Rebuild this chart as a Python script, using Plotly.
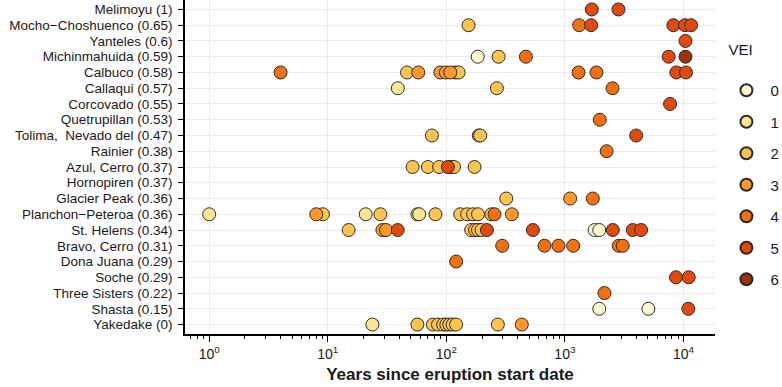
import plotly.graph_objects as go

volcanoes = [
    "Melimoyu (1)", "Mocho\u2212Choshuenco (0.65)", "Yanteles (0.6)", "Michinmahuida (0.59)",
    "Calbuco (0.58)", "Callaqui (0.57)", "Corcovado (0.55)", "Quetrupillan (0.53)",
    "Tolima,\u00a0 Nevado del (0.47)", "Rainier (0.38)", "Azul, Cerro (0.37)", "Hornopiren (0.37)",
    "Glacier Peak (0.36)", "Planchon\u2212Peteroa (0.36)", "St. Helens (0.34)", "Bravo, Cerro (0.31)",
    "Dona Juana (0.29)", "Soche (0.29)", "Three Sisters (0.22)", "Shasta (0.15)", "Yakedake (0)",
]

# eruptions: volcano index, years since start, VEI
erupt_volcano = (
    [0, 0]
    + [1] * 6
    + [2]
    + [3] * 5
    + [4] * 12
    + [5] * 3
    + [6]
    + [7]
    + [8] * 4
    + [9]
    + [10] * 7
    + [12] * 3
    + [13] * 15
    + [14] * 15
    + [15] * 6
    + [16]
    + [17] * 2
    + [18]
    + [19] * 3
    + [20] * 11
)
erupt_years = [
    1686, 2830,
    154, 1320, 1665, 8220, 10300, 11600,
    10400,
    184, 276, 469, 7500, 10400,
    4.0, 46.6, 58, 89, 99, 108, 119, 127, 1303, 1846, 8710, 10500,
    39, 267, 2520,
    7710,
    1970,
    75.6, 188, 193, 3990,
    2250,
    52, 70, 87, 110, 116, 103, 173,
    320, 1108, 1719,
    1.0, 8.0, 9.1, 20.9, 27.8, 57, 59, 81, 131, 150, 168, 185, 240, 255, 357,
    15, 28.9, 31, 38.9, 162, 175, 185, 198, 220, 537, 1780, 1950, 2535, 3730, 4390,
    296, 673, 883, 1175, 2845, 3075,
    121,
    8650, 11070,
    2157,
    1950, 5060, 10990,
    23.8, 57, 77, 85, 94, 100, 106, 113, 121, 272, 433,
]
erupt_vei = [
    5, 5,
    2, 4, 5, 5, 5, 5,
    5,
    0, 2, 4, 5, 6,
    4, 2, 3, 3, 3, 3, 2, 2, 4, 4, 5, 5,
    1, 2, 4,
    5,
    4,
    2, 2, 2, 5,
    4,
    2, 2, 2, 2, 2, 5, 2,
    2, 3, 4,
    1, 3, 2, 1, 2, 1, 1, 2, 2, 2, 2, 2, 2, 4, 3,
    2, 3, 3, 5, 2, 2, 2, 2, 5, 5, 0, 0, 5, 5, 5,
    4, 4, 4, 4, 4, 4,
    4,
    5, 5,
    4,
    0, 0, 5,
    1, 2, 2, 2, 2, 2, 2, 2, 2, 2, 3,
]

vei_levels = [0, 1, 2, 3, 4, 5, 6]
vei_colors = ["#FFFAD2", "#FEE391", "#FEC44F", "#FE9929", "#F4700F", "#E04A0E", "#A0300A"]

x_tickvals = [1, 10, 100, 1000, 10000]
x_ticktext = ["10<sup>0</sup>", "10<sup>1</sup>", "10<sup>2</sup>", "10<sup>3</sup>", "10<sup>4</sup>"]

fig = go.Figure()
for lvl, col in zip(vei_levels, vei_colors):
    xs = [x for x, v in zip(erupt_years, erupt_vei) if v == lvl]
    ys = [volcanoes[i] for i, v in zip(erupt_volcano, erupt_vei) if v == lvl]
    fig.add_trace(go.Scatter(
        x=xs, y=ys, mode="markers", name=str(lvl), legendgroup=str(lvl),
        marker=dict(size=13, color=col, line=dict(color="#2b2b2b", width=1)),
    ))

fig.update_layout(
    width=782, height=387,
    margin=dict(l=185, r=67, t=0, b=53, autoexpand=False),
    plot_bgcolor="white", paper_bgcolor="white",
    font=dict(family="Liberation Sans, Arial, sans-serif", size=14, color="#1a1a1a"),
    legend=dict(
        title=dict(text="&nbsp;VEI<br>&nbsp;", font=dict(size=15)),
        x=1.014, xanchor="left", y=0.895, yanchor="top",
        font=dict(size=15), tracegroupgap=9, itemsizing="constant",
        itemwidth=38, traceorder="grouped",
    ),
)
fig.update_xaxes(
    type="log", range=[-0.204, 4.266],
    tickmode="array", tickvals=x_tickvals, ticktext=x_ticktext,
    ticks="outside", ticklen=6, tickcolor="black", tickfont=dict(size=14),
    showline=True, linecolor="black", linewidth=1.5,
    showgrid=True, gridcolor="#ebebeb", gridwidth=1,
    minor=dict(ticks="outside", ticklen=3, tickcolor="black", dtick="D1", showgrid=False),
    zeroline=False,
    title=dict(text="<b>Years since eruption start date</b>", font=dict(size=17), standoff=8),
)
fig.update_yaxes(
    type="category", categoryorder="array", categoryarray=volcanoes[::-1],
    tickmode="array", tickvals=volcanoes, ticktext=volcanoes,
    range=[-0.6, len(volcanoes) - 0.4],
    ticks="outside", ticklen=5, tickcolor="black", ticklabelstandoff=3,
    showline=True, linecolor="black", linewidth=1.5,
    showgrid=True, gridcolor="#ebebeb", gridwidth=1,
    tickfont=dict(size=13.5),
)

fig.write_html("out.html", config={"displayModeBar": False},
               post_script="document.body.style.margin='0';")
